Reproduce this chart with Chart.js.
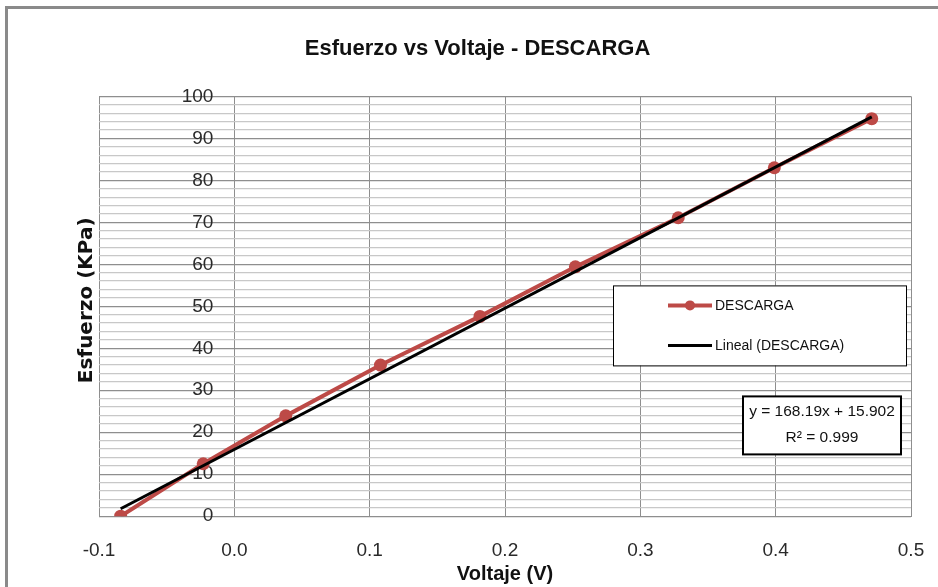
<!DOCTYPE html>
<html>
<head>
<meta charset="utf-8">
<script src="https://cdn.jsdelivr.net/npm/chart.js@4.4.0/dist/chart.umd.min.js"></script>
<style>
html,body{margin:0;padding:0;background:#fff;overflow:hidden;width:938px;height:587px;}
#frame{position:absolute;left:5px;top:6px;width:1000px;height:700px;border:3px solid #8a8a8a;box-sizing:border-box;}
#wrap{position:absolute;left:0;top:0;width:938px;height:587px;}
</style>
</head>
<body>
<div id="frame"></div>
<div id="wrap"><canvas id="c" width="938" height="587"></canvas></div>
<script>
// ---- data ----
const voltage = [-0.084, -0.023, 0.038, 0.108, 0.1815, 0.252, 0.328, 0.399, 0.471];
const stress  = [0, 12.5, 23.9, 36.0, 47.6, 59.4, 71.1, 83.0, 94.7];
const xTickValues = [-0.1, 0.0, 0.1, 0.2, 0.3, 0.4, 0.5];
const yTickValues = [0, 10, 20, 30, 40, 50, 60, 70, 80, 90, 100];
const yMinorStep = 2;
const trendSlope = 168.19;
const trendIntercept = 15.902;
const rSquared = 0.999;
const seriesName = 'DESCARGA';
const trendName = 'Lineal (DESCARGA)';
const chartTitle = 'Esfuerzo vs Voltaje - DESCARGA';
const xTitle = 'Voltaje (V)';
const yTitle = 'Esfuerzo (KPa)';

const RED = '#bd4a47';
const SANS = '"Liberation Sans", Arial, sans-serif';

const points = voltage.map((v, i) => ({x: v, y: stress[i]}));
const xFitRange = [Math.min(...voltage), Math.max(...voltage)];
const trendPoints = xFitRange.map(x => ({x: x, y: trendSlope * x + trendIntercept}));

const boxesPlugin = {
  id: 'boxes',
  afterLayout(chart) {
    const s = chart.scales.yTitle;
    if (s) { s.bottom -= 12; }
  },
  afterDatasetsDraw(chart) {
    const ctx = chart.ctx;
    const ca = chart.chartArea;
    ctx.save();
    // legend box
    const lx = ca.left + 514, ly = ca.top + 189, lw = 293, lh = 80;
    ctx.fillStyle = '#fff';
    ctx.fillRect(lx, ly, lw, lh);
    ctx.strokeStyle = '#000';
    ctx.lineWidth = 1;
    ctx.strokeRect(lx + 0.5, ly + 0.5, lw, lh);
    const entries = chart.data.datasets.slice().sort((a, b) => (b.order||0) - (a.order||0));
    const rows = [ly + 20, ly + 60];
    entries.forEach((ds, i) => {
      const y = rows[i];
      ctx.strokeStyle = ds.borderColor;
      ctx.lineWidth = ds.borderWidth;
      ctx.beginPath();
      ctx.moveTo(lx + 55, y);
      ctx.lineTo(lx + 99, y);
      ctx.stroke();
      if (ds.pointRadius > 0) {
        ctx.fillStyle = ds.borderColor;
        ctx.beginPath();
        ctx.arc(lx + 77, y, 5, 0, Math.PI * 2);
        ctx.fill();
      }
      ctx.fillStyle = '#111';
      ctx.font = '14px ' + SANS;
      ctx.textAlign = 'left';
      ctx.textBaseline = 'middle';
      ctx.fillText(ds.label, lx + 102, y + 1);
    });
    // equation box
    const ex = ca.left + 644, ey = ca.top + 300, ew = 158, eh = 58;
    ctx.fillStyle = '#fff';
    ctx.fillRect(ex, ey, ew, eh);
    ctx.strokeStyle = '#000';
    ctx.lineWidth = 2;
    ctx.strokeRect(ex, ey, ew, eh);
    ctx.fillStyle = '#111';
    ctx.font = '15.5px ' + SANS;
    ctx.textAlign = 'center';
    ctx.textBaseline = 'middle';
    ctx.fillText('y = ' + trendSlope.toFixed(2) + 'x + ' + trendIntercept.toFixed(3), ex + ew / 2, ey + 15);
    ctx.fillText('R\u00B2 = ' + rSquared.toFixed(3), ex + ew / 2, ey + 41);
    ctx.restore();
  }
};

new Chart(document.getElementById('c'), {
  type: 'scatter',
  data: {
    datasets: [
      {
        label: trendName,
        data: trendPoints,
        showLine: true,
        borderColor: '#000',
        backgroundColor: '#000',
        borderWidth: 3,
        pointRadius: 0,
        order: 0
      },
      {
        label: seriesName,
        data: points,
        showLine: true,
        borderColor: RED,
        backgroundColor: RED,
        borderWidth: 4,
        pointRadius: 6.5,
        pointBorderWidth: 0,
        order: 1
      }
    ]
  },
  options: {
    responsive: false,
    animation: false,
    devicePixelRatio: 1,
    layout: {padding: {left: 44, right: 27, top: 36, bottom: 1}},
    plugins: {
      legend: {display: false},
      tooltip: {enabled: false},
      title: {
        display: true,
        text: chartTitle,
        color: '#111',
        font: {family: SANS, size: 22, weight: 'bold'},
        padding: {top: 0, bottom: 34}
      }
    },
    scales: {
      x: {
        type: 'linear',
        position: 'bottom',
        min: -0.1,
        max: 0.5,
        afterBuildTicks: s => { s.ticks = xTickValues.map(v => ({value: v})); },
        ticks: {
          callback: v => Number(v).toFixed(1),
          color: '#2a2a2a',
          font: {family: SANS, size: 19},
          padding: 0,
          maxRotation: 0,
          autoSkip: false
        },
        grid: {color: '#8e8e8e', lineWidth: 1, drawTicks: true, tickLength: 23, tickColor: 'rgba(0,0,0,0)'},
        border: {color: '#8e8e8e'},
        title: {
          display: true,
          text: xTitle,
          color: '#111',
          font: {family: SANS, size: 20, weight: 'bold'},
          padding: {top: 0, bottom: 0}
        }
      },
      y: {
        type: 'linear',
        position: {x: -0.0155},
        min: 0,
        max: 100,
        afterBuildTicks: s => {
          const t = [];
          for (let v = yTickValues[0]; v <= yTickValues[yTickValues.length - 1] + 1e-9; v += yMinorStep) t.push({value: v});
          s.ticks = t;
        },
        afterFit: s => { s.paddingTop = 0; s.paddingBottom = 0; },
        ticks: {
          callback: v => yTickValues.includes(Math.round(v)) && Math.abs(v - Math.round(v)) < 1e-6 ? String(Math.round(v)) : '',
          color: '#2a2a2a',
          font: {family: SANS, size: 19},
          padding: 0,
          autoSkip: false
        },
        grid: {
          drawTicks: false,
          color: c => (c.tick && yTickValues.includes(Math.round(c.tick.value))) ? '#8e8e8e' : '#c8c8c8',
          lineWidth: 1.3
        },
        border: {display: false}
      },
      yTitle: {
        type: 'linear',
        position: 'left',
        display: true,
        min: 0,
        max: 1,
        ticks: {display: false},
        grid: {display: false, drawTicks: false},
        border: {display: false},
        title: {
          display: true,
          text: yTitle,
          color: '#111',
          font: {family: '"DejaVu Sans", sans-serif', size: 20, weight: 'bold'},
          padding: {top: 31, bottom: 0}
        }
      }
    }
  },
  plugins: [boxesPlugin]
});
</script>
</body>
</html>
